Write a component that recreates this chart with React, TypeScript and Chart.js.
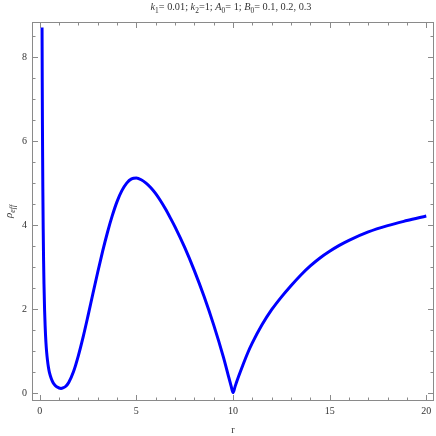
import React, { useEffect, useRef } from "react";
import { Chart, registerables } from "chart.js";

Chart.register(...registerables);

// ---- data ----
const rValues = [
  0.12, 0.13, 0.14, 0.15, 0.16, 0.18, 0.2, 0.22, 0.25, 0.28, 0.32, 0.36, 0.4, 0.45, 0.5,
  0.6, 0.7, 0.8, 0.9, 1.0, 1.1, 1.2, 1.35, 1.5, 1.75, 2.0, 2.25, 2.5, 2.75, 3.0, 3.25,
  3.5, 3.75, 4.0, 4.25, 4.5, 4.75, 5.0, 5.25, 5.5, 5.75, 6.0, 6.25, 6.5, 6.75, 7.0, 7.5, 8.0, 8.5,
  9.0, 9.5, 9.8, 9.9, 10.0, 10.1, 10.2, 10.5, 10.75, 11, 11.5, 12, 12.5, 13, 13.5, 14, 14.5, 15,
  15.5, 16, 17, 18, 19, 20,
];
const rhoValues = [
  8.7, 7.4, 6.4, 5.6, 4.9, 3.9, 3.15, 2.6, 2.0, 1.6, 1.22, 0.97, 0.79, 0.62, 0.5,
  0.35, 0.25, 0.19, 0.15, 0.13, 0.12, 0.13, 0.17, 0.26, 0.52, 0.9, 1.35, 1.85, 2.37, 2.88, 3.37,
  3.82, 4.22, 4.56, 4.82, 5.0, 5.1, 5.12, 5.08, 5.0, 4.89, 4.75, 4.58, 4.39, 4.18, 3.96, 3.47, 2.92, 2.31,
  1.63, 0.87, 0.35, 0.18, 0.02, 0.15, 0.29, 0.66, 0.95, 1.2, 1.63, 1.99, 2.29, 2.56, 2.81, 3.03, 3.22, 3.38,
  3.52, 3.64, 3.84, 3.99, 4.11, 4.22,
];
const xTickLabels = [0, 5, 10, 15, 20];
const yTickLabels = [0, 2, 4, 6, 8];
const xMinorTicks = [0, 1, 2, 3, 4, 5, 6, 7, 8, 9, 10, 11, 12, 13, 14, 15, 16, 17, 18, 19, 20];
const yMinorTicks = [0, 0.5, 1, 1.5, 2, 2.5, 3, 3.5, 4, 4.5, 5, 5.5, 6, 6.5, 7, 7.5, 8, 8.5];
const xAxisTitle = "r";
const titleSegments: { t: string; italic?: boolean; sub?: boolean }[] = [
  { t: "k", italic: true }, { t: "1", sub: true }, { t: "= 0.01; " },
  { t: "k", italic: true }, { t: "2", sub: true }, { t: "=1; " },
  { t: "A", italic: true }, { t: "0", sub: true }, { t: "= 1; " },
  { t: "B", italic: true }, { t: "0", sub: true }, { t: "= 0.1, 0.2, 0.3" },
];
const yTitleSegments: { t: string; italic?: boolean; sub?: boolean }[] = [
  { t: "\u03c1", italic: true }, { t: "eff", sub: true, italic: true },
];

const FONT = "'Liberation Serif', 'Times New Roman', serif";
const TEXT = "#333333";
const FRAME = "#8a8a8a";

function drawSegments(
  ctx: CanvasRenderingContext2D,
  segs: { t: string; italic?: boolean; sub?: boolean }[],
  cx: number,
  baseline: number,
  size: number
) {
  const subSize = size * 0.72;
  const fontOf = (s: { italic?: boolean; sub?: boolean }) =>
    `${s.italic ? "italic " : ""}${s.sub ? subSize : size}px ${FONT}`;
  let total = 0;
  for (const s of segs) {
    ctx.font = fontOf(s);
    total += ctx.measureText(s.t).width;
  }
  let x = cx - total / 2;
  ctx.textAlign = "left";
  ctx.textBaseline = "alphabetic";
  for (const s of segs) {
    ctx.font = fontOf(s);
    ctx.fillText(s.t, x, baseline + (s.sub ? size * 0.25 : 0));
    x += ctx.measureText(s.t).width;
  }
}

const framePlugin = {
  id: "mmaFrame",
  afterDraw(chart: any) {
    const { ctx, chartArea } = chart;
    const { left, right, top, bottom } = chartArea;
    const xs = chart.scales.x;
    const ys = chart.scales.y;
    ctx.save();
    ctx.strokeStyle = FRAME;
    ctx.lineWidth = 1;
    ctx.strokeRect(Math.round(left) + 0.5, Math.round(top) + 0.5, Math.round(right - left) - 1, Math.round(bottom - top) - 1);
    ctx.beginPath();
    for (const v of xMinorTicks) {
      const px = Math.round(xs.getPixelForValue(v)) + 0.5;
      const len = v % 5 === 0 ? 6 : 3.5;
      ctx.moveTo(px, bottom);
      ctx.lineTo(px, bottom - len);
      ctx.moveTo(px, top);
      ctx.lineTo(px, top + len);
    }
    for (const v of yMinorTicks) {
      const py = Math.round(ys.getPixelForValue(v)) + 0.5;
      const len = v % 2 === 0 ? 6 : 3.5;
      ctx.moveTo(left, py);
      ctx.lineTo(left + len, py);
      ctx.moveTo(right, py);
      ctx.lineTo(right - len, py);
    }
    ctx.stroke();

    ctx.fillStyle = TEXT;
    drawSegments(ctx, titleSegments, (left + right) / 2 - 2, 10, 10.3);

    ctx.save();
    ctx.translate(12, (top + bottom) / 2);
    ctx.rotate(-Math.PI / 2);
    drawSegments(ctx, yTitleSegments, 0, 0, 11);
    ctx.restore();
    ctx.restore();
  },
};

export default function App() {
  const ref = useRef<HTMLCanvasElement>(null);
  useEffect(() => {
    document.body.style.margin = "0";
    const points = rValues.map((r, i) => ({ x: r, y: rhoValues[i] }));
    const chart = new Chart(ref.current!, {
      type: "line",
      data: {
        datasets: [
          {
            data: points,
            borderColor: "#0000ff",
            borderWidth: 3,
            pointRadius: 0,
            fill: false,
            cubicInterpolationMode: "monotone",
          },
        ],
      },
      options: {
        animation: false,
        responsive: true,
        maintainAspectRatio: false,
        layout: { padding: { top: 22, right: 2, left: 0, bottom: 0 } },
        plugins: { legend: { display: false }, tooltip: { enabled: false }, title: { display: false } },
        scales: {
          x: {
            type: "linear",
            min: -0.4,
            max: 20.4,
            grid: { display: false, drawTicks: false },
            border: { display: false },
            afterFit: (s: any) => { s.height = 35; },
            afterBuildTicks: (s: any) => { s.ticks = xTickLabels.map((v) => ({ value: v })); },
            ticks: { padding: 4, color: TEXT, font: { family: FONT, size: 10 }, maxRotation: 0 },
            title: { display: true, text: xAxisTitle, color: TEXT, font: { family: FONT, size: 10 }, padding: { top: 0, bottom: 0 } },
          },
          y: {
            type: "linear",
            min: -0.18,
            max: 8.83,
            grid: { display: false, drawTicks: false },
            border: { display: false },
            afterFit: (s: any) => { s.width = 32; },
            afterBuildTicks: (s: any) => { s.ticks = yTickLabels.map((v) => ({ value: v })); },
            ticks: { padding: 5, color: TEXT, font: { family: FONT, size: 10 } },
          },
        },
      },
      plugins: [framePlugin],
    });
    return () => chart.destroy();
  }, []);
  return (
    <div style={{ position: "absolute", left: 0, top: 0, width: 436, height: 436 }}>
      <canvas ref={ref} />
    </div>
  );
}
